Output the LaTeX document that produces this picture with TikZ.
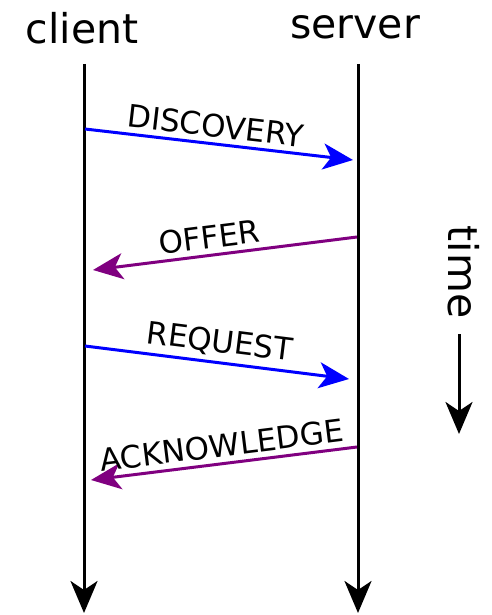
\documentclass[tikz,border=0pt]{standalone}
\usepackage{fontspec}
\setmainfont{DejaVu Sans}
\usetikzlibrary{arrows.meta}
\definecolor{msgblue}{RGB}{0,0,255}
\definecolor{msgpurple}{RGB}{128,0,128}
\tikzset{
  lifeline/.style={line width=3pt, -{Stealth[length=32pt,width=27pt,inset=9pt]}},
  msg/.style={line width=3pt, -{Stealth[length=30pt,width=26pt,inset=8pt]}},
  party/.style={font=\fontsize{41}{44}\selectfont, inner sep=0pt},
  msglabel/.style={font=\fontsize{31}{34}\selectfont, inner sep=0pt, sloped, text=black, above=5pt}
}
\begin{document}
\begin{tikzpicture}[x=1pt,y=-1pt]
  \useasboundingbox (0,0) rectangle (492,615);
  % participants
  \node[party] (client) at (82,28) {client};
  \node[party] (server) at (355,27) {server};
  \coordinate (ctop) at (84,64);
  \coordinate (cbot) at (84,613);
  \coordinate (stop) at (358,64);
  \coordinate (sbot) at (358,613);
  \draw[lifeline] (ctop) -- (cbot);
  \draw[lifeline] (stop) -- (sbot);
  % message end points
  \coordinate (d1) at (85,129);  \coordinate (d2) at (353,160);
  \coordinate (o1) at (357,237); \coordinate (o2) at (93,270);
  \coordinate (r1) at (85,346);  \coordinate (r2) at (349,379);
  \coordinate (a1) at (357,447); \coordinate (a2) at (91,480);
  % messages
  \draw[msg, msgblue] (d1) -- node[msglabel, pos=0.48] {DISCOVERY} (d2);
  \draw[msg, msgpurple] (o1) -- node[msglabel, pos=0.55] {OFFER} (o2);
  \draw[msg, msgblue] (r1) -- node[msglabel] {REQUEST} (r2);
  \draw[msg, msgpurple] (a1) -- node[msglabel] {ACKNOWLEDGE} (a2);
  % time axis
  \node[party, rotate=-90] (time) at (464,272) {time};
  \coordinate (ttop) at (459,334);
  \coordinate (tbot) at (459,434);
  \draw[lifeline] (ttop) -- (tbot);
\end{tikzpicture}
\end{document}
